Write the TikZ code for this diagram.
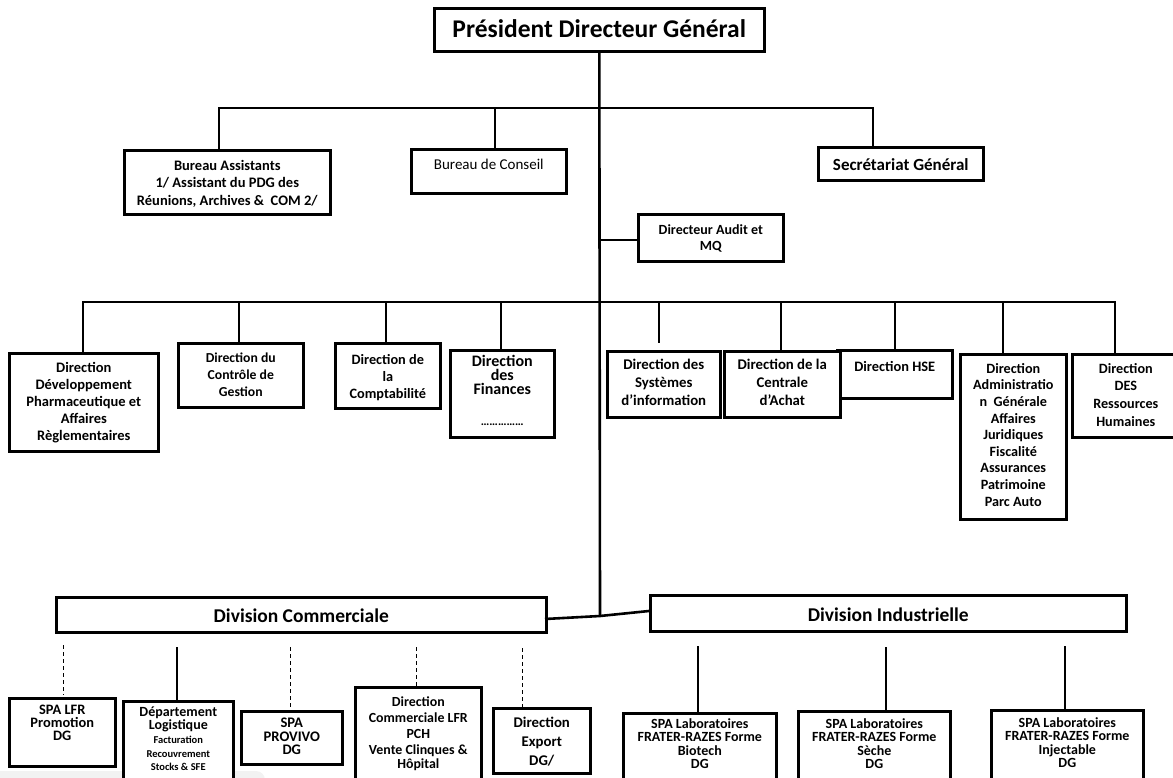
\documentclass[tikz,border=0pt]{standalone}
\usepackage{fontspec}
\setmainfont{Carlito}
\tikzset{
  box/.style={draw=black, line width=2.6pt, fill=white, inner sep=0pt, font=\bfseries},
  conn/.style={draw=black, line width=2.6pt},
  thinconn/.style={draw=black, line width=1.8pt},
  dashconn/.style={draw=black, line width=0.9pt, dash pattern=on 4pt off 3pt}
}
% name, x1, y1, x2, y2, top pad, font setup, text
\newcommand\obox[8]{%
  \node[box, anchor=north west] (#1) at (#2,#3)
    {\parbox[c][\dimexpr#5pt-#3pt\relax][t]{\dimexpr#4pt-#2pt\relax}{\centering #7\vspace*{#6pt}#8\par}};}
\begin{document}
\begin{tikzpicture}[x=1pt, y=-1pt]
\useasboundingbox (0,0) rectangle (1173,778);
\fill[gray!10, rounded corners=9pt] (-20,771) rectangle (265,800);

% top level
\obox{pdg}{433}{7}{763}{50}{11}{\fontsize{25.5}{28}\selectfont}{Président Directeur Général}
\obox{ba}{123}{149}{329}{213}{10}{\fontsize{14.5}{17.5}\selectfont}{Bureau Assistants\\ 1/ Assistant du PDG des\\ Réunions, Archives \&\ \ COM 2/}
\obox{bc}{410}{148}{565}{192}{10}{\mdseries\fontsize{15}{18}\selectfont}{Bureau de Conseil}
\obox{sg}{817}{146}{982}{179}{11}{\fontsize{17}{20}\selectfont}{Secrétariat Général}
\obox{au}{637}{213}{782}{260}{10}{\fontsize{14}{16.5}\selectfont}{Directeur Audit et\\ MQ}

% second level
\obox{dev}{8}{352}{157}{450}{9}{\fontsize{14.5}{17}\selectfont}{Direction\\ Développement\\ Pharmaceutique et\\ Affaires\\ Règlementaires}
\obox{ctrl}{177}{342}{302}{406}{10}{\fontsize{13.7}{17}\selectfont}{Direction du\\ Contrôle de\\ Gestion}
\obox{compta}{334}{342}{439}{407}{11}{\fontsize{14.3}{17}\selectfont}{Direction de\\ la\\ Comptabilité}
\obox{fin}{449}{349}{553}{436}{5}{\fontsize{16}{14}\selectfont}{Direction\\ des\\ Finances\\[17pt] {\fontsize{12}{12}\selectfont ……………}}
\obox{sys}{606}{350}{719}{416}{8}{\fontsize{14.8}{18}\selectfont}{Direction des\\ Systèmes\\ d’information}
\obox{hse}{836}{349}{951}{397}{11}{\fontsize{14.4}{17}\selectfont}{Direction HSE}
\obox{cen}{723}{350}{839}{416}{8}{\fontsize{14.8}{18}\selectfont}{Direction de la\\ Centrale\\ d’Achat}
\obox{adm}{959}{353}{1065}{518}{9}{\fontsize{14.2}{16.6}\selectfont}{Direction\\ Administratio\\ n\ \ Générale\\ Affaires\\ Juridiques\\ Fiscalité\\ Assurances\\ Patrimoine\\ Parc Auto}
\obox{rh}{1071}{353}{1178}{436}{9}{\fontsize{14.2}{17.6}\selectfont}{Direction\\ DES\\ Ressources\\ Humaines}

% divisions
\obox{dc}{55}{596}{545}{631}{12}{\fontsize{19.5}{22}\selectfont}{Division Commerciale}
\obox{di}{649}{594}{1125}{630}{13}{\fontsize{19.5}{22}\selectfont}{Division Industrielle}

% bottom row
\obox{lfr}{8}{697}{114}{765}{7}{\fontsize{14.4}{13}\selectfont}{SPA LFR\\ Promotion\\ DG}
\obox{log}{122}{700}{232}{790}{6}{\fontsize{14}{13}\selectfont}{Département\\ Logistique\\ {\fontsize{10.5}{14}\selectfont Facturation\\ Recouvrement\\ Stocks \& SFE}}
\obox{prov}{240}{710}{341}{763}{7}{\fontsize{14.6}{13.5}\selectfont}{SPA\\ PROVIVO\\ DG}
\obox{dcl}{354}{686}{480}{790}{9}{\fontsize{13.9}{16}\selectfont}{Direction\\ Commerciale LFR\\ PCH\\ Vente Clinques \&\\[-2pt] Hôpital}
\obox{exp}{492}{707}{589}{772}{9}{\fontsize{14.8}{19}\selectfont}{Direction\\ Export\\ DG/}
\obox{bio}{622}{712}{775}{790}{5}{\fontsize{14}{13.5}\selectfont}{SPA Laboratoires\\ FRATER-RAZES Forme\\ Biotech\\ DG}
\obox{sec}{797}{710}{949}{790}{7}{\fontsize{14}{13.5}\selectfont}{SPA Laboratoires\\ FRATER-RAZES Forme\\ Sèche\\ DG}
\obox{inj}{990}{709}{1142}{790}{7}{\fontsize{14}{13.5}\selectfont}{SPA Laboratoires\\ FRATER-RAZES Forme\\ Injectable\\ DG}

% coordinates
\coordinate (jn) at (600,616);
\coordinate (t1) at (219,108);
\coordinate (t2) at (495,108);
\coordinate (t3) at (873,108);
\coordinate (a0) at (598,240);
\coordinate (d1) at (83,302);
\coordinate (d2) at (239,302);
\coordinate (d3) at (386,302);
\coordinate (d4) at (501,302);
\coordinate (d5) at (659,302);
\coordinate (e5) at (659,343);
\coordinate (d6) at (781,302);
\coordinate (d7) at (895,302);
\coordinate (d8) at (1003,302);
\coordinate (d9) at (1115,302);
\coordinate (dcR) at (545,619);
\coordinate (diL) at (649,611);
\coordinate (b1) at (63,645);
\coordinate (b2) at (177,647);
\coordinate (b3) at (290,647);
\coordinate (b4) at (416,647);
\coordinate (b5) at (522,648);
\coordinate (b6) at (698,646);
\coordinate (b7) at (886,647);
\coordinate (b8) at (1065,646);
\coordinate (e1) at (63,695);

% connectors
\draw[conn] (pdg.south) -- (jn);
\draw[conn] (t1 |- ba.north) -- (t1) -- (t3) -- (t3 |- sg.north);
\draw[conn] (t2) -- (t2 |- bc.north);
\draw[conn] (a0) -- (a0 -| au.west);
\draw[conn] (d1 |- dev.north) -- (d1) -- (d9) -- (d9 |- rh.north);
\draw[conn] (d2) -- (d2 |- ctrl.north);
\draw[conn] (d3) -- (d3 |- compta.north);
\draw[conn] (d4) -- (d4 |- fin.north);
\draw[conn] (d5) -- (e5);
\draw[conn] (d6) -- (d6 |- cen.north);
\draw[conn] (d7) -- (d7 |- hse.north);
\draw[conn] (d8) -- (d8 |- adm.north);
\draw[conn] (dcR) -- (jn) -- (diL);

\draw[dashconn] (b1) -- (e1);
\draw[thinconn] (b2) -- (b2 |- log.north);
\draw[dashconn] (b3) -- (b3 |- prov.north);
\draw[dashconn] (b4) -- (b4 |- dcl.north);
\draw[dashconn] (b5) -- (b5 |- exp.north);
\draw[thinconn] (b6) -- (b6 |- bio.north);
\draw[thinconn] (b7) -- (b7 |- sec.north);
\draw[thinconn] (b8) -- (b8 |- inj.north);
\end{tikzpicture}
\end{document}
